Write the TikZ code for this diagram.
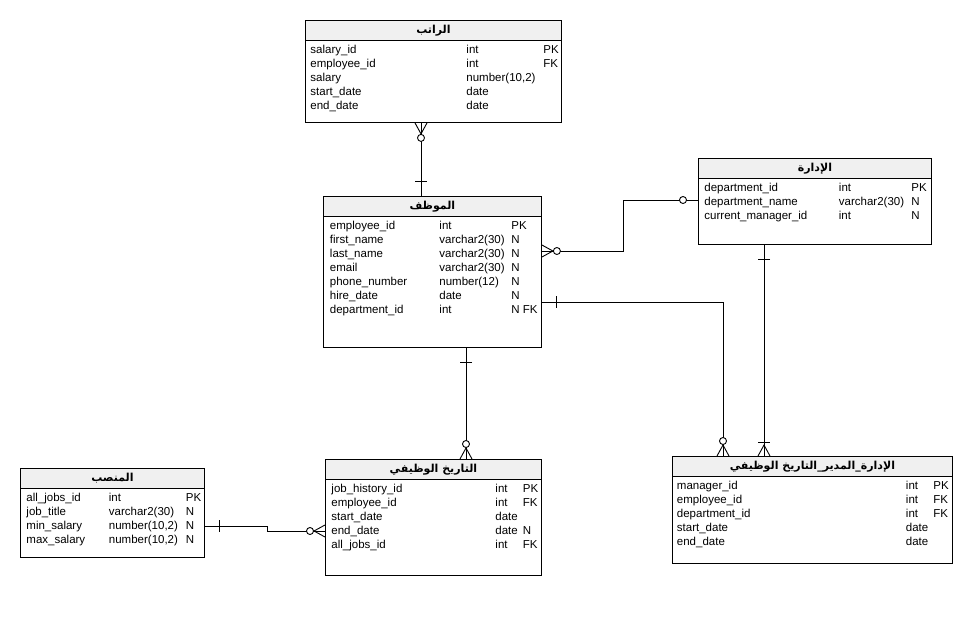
\documentclass[tikz,border=0pt]{standalone}
\usepackage{fontspec}
\setmainfont{Liberation Sans}
\newfontfamily\arabicfont[Script=Arabic]{DejaVu Sans}
\TeXXeTstate=1
\usetikzlibrary{calc}
\definecolor{headgray}{RGB}{240,240,240}
\newcommand{\artitle}[1]{{\arabicfont\bfseries\beginR #1\endR}}
\newcommand{\erbody}[3]{\begin{tabular}{@{}p{#1}@{}p{#2}@{}l@{}}#3\end{tabular}}
\tikzset{
  tbl/.style={draw, anchor=north west, inner sep=0pt},
  hdr/.style={draw, fill=headgray, anchor=north, inner sep=0pt, minimum height=20pt,
    font=\fontsize{11}{12}\selectfont},
  fld/.style={anchor=north west, inner sep=0pt, font=\fontsize{11.5}{14}\selectfont},
  one/.pic={\draw (15,-6) -- (15,6);},
  ring/.pic={\draw[fill=white] (15,0) circle (3.5);},
  zmany/.pic={\draw (0,-6) -- (11,0) -- (0,6); \draw (0,0) -- (11,0);
    \draw[fill=white] (15,0) circle (3.5);},
  onemany/.pic={\draw (0,-6) -- (11,0) -- (0,6); \draw (0,0) -- (11,0);
    \draw (14,-6) -- (14,6);}
}
\begin{document}
\begin{tikzpicture}[x=1pt,y=-1pt,line width=0.9pt]
\fill[white] (0,0) rectangle (972,635);
\useasboundingbox (0,0) rectangle (972,635);

% tables
\node[tbl, minimum width=256pt, minimum height=102pt] (salary) at (305,20) {};
\node[hdr, minimum width=256pt] (salaryhd) at (salary.north) {\artitle{الراتب}};
\node[fld] (salarybody) at ([xshift=5pt,yshift=-2.5pt]salaryhd.south west) {\erbody{156pt}{77pt}{%
salary\_id & int & PK\\
employee\_id & int & FK\\
salary & number(10,2) & \\
start\_date & date & \\
end\_date & date & }};

\node[tbl, minimum width=218pt, minimum height=151pt] (employee) at (323,196) {};
\node[hdr, minimum width=218pt] (employeehd) at (employee.north) {\artitle{الموظف}};
\node[fld] (employeebody) at ([xshift=6.5pt,yshift=-2.5pt]employeehd.south west) {\erbody{109.5pt}{72pt}{%
employee\_id & int & PK\\
first\_name & varchar2(30) & N\\
last\_name & varchar2(30) & N\\
email & varchar2(30) & N\\
phone\_number & number(12) & N\\
hire\_date & date & N\\
department\_id & int & N FK}};

\node[tbl, minimum width=233pt, minimum height=86pt] (dept) at (698,158) {};
\node[hdr, minimum width=233pt] (depthd) at (dept.north) {\artitle{الإدارة}};
\node[fld] (deptbody) at ([xshift=6pt,yshift=-2.5pt]depthd.south west) {\erbody{134.5pt}{72.5pt}{%
department\_id & int & PK\\
department\_name & varchar2(30) & N\\
current\_manager\_id & int & N}};

\node[tbl, minimum width=184pt, minimum height=89pt] (jobs) at (20,468) {};
\node[hdr, minimum width=184pt] (jobshd) at (jobs.north) {\artitle{المنصب}};
\node[fld] (jobsbody) at ([xshift=6pt,yshift=-2.5pt]jobshd.south west) {\erbody{82.5pt}{77pt}{%
all\_jobs\_id & int & PK\\
job\_title & varchar2(30) & N\\
min\_salary & number(10,2) & N\\
max\_salary & number(10,2) & N}};

\node[tbl, minimum width=216pt, minimum height=116pt] (jobhist) at (325,459) {};
\node[hdr, minimum width=216pt] (jobhisthd) at (jobhist.north) {\artitle{التاريخ الوظيفي}};
\node[fld] (jobhistbody) at ([xshift=6pt,yshift=-2.5pt]jobhisthd.south west) {\erbody{164pt}{27.5pt}{%
job\_history\_id & int & PK\\
employee\_id & int & FK\\
start\_date & date & \\
end\_date & date & N\\
all\_jobs\_id & int & FK}};

\node[tbl, minimum width=280pt, minimum height=107pt] (manager) at (672,456) {};
\node[hdr, minimum width=280pt] (managerhd) at (manager.north) {\artitle{الإدارة\_المدير\_التاريخ الوظيفي}};
\node[fld] (managerbody) at ([xshift=4.5pt,yshift=-2.5pt]managerhd.south west) {\erbody{229pt}{27.5pt}{%
manager\_id & int & PK\\
employee\_id & int & FK\\
department\_id & int & FK\\
start\_date & date & \\
end\_date & date & }};

% relations
\coordinate (se) at (421,0);
\coordinate (ej) at (466,0);
\coordinate (em) at (723,0);
\coordinate (dm) at (764,0);

\draw (salary.south -| se) -- (employee.north -| se);
\pic[rotate=-90] at (salary.south -| se) {zmany};
\pic[rotate=90] at (employee.north -| se) {one};

\draw ([yshift=-55pt]employee.north east) -- ++(82,0) |- ([yshift=-42pt]dept.north west);
\pic at ([yshift=-55pt]employee.north east) {zmany};
\pic[rotate=180] at ([yshift=-42pt]dept.north west) {ring};

\draw ([yshift=-106pt]employee.north east) -| (manager.north -| em);
\pic at ([yshift=-106pt]employee.north east) {one};
\pic[rotate=90] at (manager.north -| em) {zmany};

\draw (dept.south -| dm) -- (manager.north -| dm);
\pic[rotate=-90] at (dept.south -| dm) {one};
\pic[rotate=90] at (manager.north -| dm) {onemany};

\draw (employee.south -| ej) -- (jobhist.north -| ej);
\pic[rotate=-90] at (employee.south -| ej) {one};
\pic[rotate=90] at (jobhist.north -| ej) {zmany};

\draw ([yshift=-58pt]jobs.north east) -- ++(63,0) |- ([yshift=-72pt]jobhist.north west);
\pic at ([yshift=-58pt]jobs.north east) {one};
\pic[rotate=180] at ([yshift=-72pt]jobhist.north west) {zmany};
\end{tikzpicture}
\end{document}
